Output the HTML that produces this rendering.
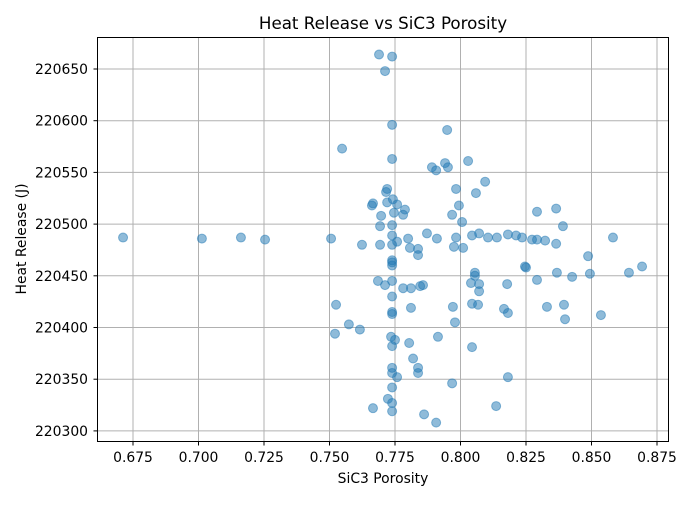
<!DOCTYPE html>
<html><head><meta charset="utf-8"><style>
body{margin:0;background:#fff;}
svg text{font-family:"DejaVu Sans","Liberation Sans",sans-serif;fill:#000;}
</style></head><body>
<svg id="chart" width="700" height="500" viewBox="0 0 700 500" xmlns="http://www.w3.org/2000/svg">
<rect width="700" height="500" fill="#fff"/>
<g id="grid"></g>
<g id="points"></g>
<rect x="97.5" y="37.5" width="571" height="404" fill="none" stroke="#000" stroke-width="1"/>
<g id="ticks"></g>
<text x="383" y="29" font-size="16.7" text-anchor="middle">Heat Release vs SiC3 Porosity</text>
<text x="383" y="483" font-size="13.9" text-anchor="middle">SiC3 Porosity</text>
<text transform="translate(26,239) rotate(-90)" font-size="13.9" text-anchor="middle">Heat Release (J)</text>
</svg>
<script>
const xTicks=[0.675,0.700,0.725,0.750,0.775,0.800,0.825,0.850,0.875];
const yTicks=[220300,220350,220400,220450,220500,220550,220600,220650];
const porosity=[0.6712,0.7013,0.7162,0.7254,0.7506,0.7689,0.7739,0.7712,0.7739,0.7548,0.7739,0.7949,0.7891,0.7907,0.7941,0.7952,0.8029,0.7983,0.8094,0.8059,0.7994,0.7968,0.8006,0.8292,0.7720,0.7716,0.7666,0.7662,0.7720,0.7742,0.7758,0.7697,0.7746,0.7788,0.7781,0.7739,0.7693,0.7739,0.7800,0.7872,0.7910,0.7983,0.8044,0.8071,0.8105,0.8139,0.8181,0.8212,0.8235,0.8292,0.8323,0.7624,0.7693,0.7739,0.7758,0.7807,0.7838,0.7838,0.7975,0.8010,0.7739,0.7739,0.7739,0.8246,0.8250,0.8055,0.8055,0.7685,0.7712,0.7739,0.7781,0.7811,0.7857,0.7846,0.8040,0.8071,0.8071,0.8178,0.8292,0.7739,0.7525,0.7811,0.7971,0.8044,0.8067,0.8166,0.8181,0.8330,0.7739,0.7739,0.7979,0.7574,0.7616,0.7521,0.7735,0.7750,0.7804,0.7914,0.7739,0.8044,0.7819,0.7838,0.7838,0.7739,0.7739,0.7758,0.8181,0.7968,0.7739,0.7723,0.7739,0.7666,0.7739,0.8136,0.7861,0.7907,0.8365,0.8391,0.8365,0.8368,0.8395,0.8399,0.8426,0.8487,0.8494,0.8536,0.8582,0.8643,0.8693,0.8273];
const heat=[220487,220486,220487,220485,220486,220664,220662,220648,220596,220573,220563,220591,220555,220552,220559,220555,220561,220534,220541,220530,220518,220509,220502,220512,220534,220531,220520,220518,220521,220524,220519,220508,220511,220514,220509,220499,220498,220489,220486,220491,220486,220487,220489,220491,220487,220487,220490,220489,220487,220485,220484,220480,220480,220480,220483,220477,220476,220470,220478,220477,220465,220460,220463,220459,220458,220453,220450,220445,220441,220445,220438,220438,220441,220440,220443,220442,220435,220442,220446,220430,220422,220419,220420,220423,220422,220418,220414,220420,220415,220413,220405,220403,220398,220394,220391,220388,220385,220391,220382,220381,220370,220361,220356,220361,220356,220352,220352,220346,220342,220331,220327,220322,220319,220324,220316,220308,220515,220498,220481,220453,220422,220408,220449,220469,220452,220412,220487,220453,220459,220485];
const NS="http://www.w3.org/2000/svg";
function xs(v){return 133+(v-0.675)*2620;}
function ys(v){return 69+(220650-v)*1.034;}
const grid=document.getElementById('grid'),ticks=document.getElementById('ticks'),pts=document.getElementById('points');
function mk(tag,attrs,parent){const e=document.createElementNS(NS,tag);for(const k in attrs)e.setAttribute(k,attrs[k]);parent.appendChild(e);return e;}
xTicks.forEach(t=>{const x=xs(t);
const g=mk('line',{x1:x,x2:x,y1:37.5,y2:441.5,stroke:'#b0b0b0','stroke-width':1},grid);


const tk=mk('line',{x1:x,x2:x,y1:441.5,y2:445.5,stroke:'#000'},ticks);


const l=mk('text',{x:x,y:462,'font-size':13.9,'text-anchor':'middle'},ticks);l.textContent=t.toFixed(3);


});
yTicks.forEach(t=>{const y=ys(t);
const g=mk('line',{x1:97.5,x2:668.5,y1:y,y2:y,stroke:'#b0b0b0','stroke-width':1},grid);


const tk=mk('line',{x1:93.5,x2:97.5,y1:y,y2:y,stroke:'#000'},ticks);


const l=mk('text',{x:88,y:y+5,'font-size':13.9,'text-anchor':'end'},ticks);l.textContent=t;


});
porosity.forEach((v,i)=>{
const c=mk('circle',{cx:xs(v),cy:ys(heat[i]),r:4.5,fill:'#1f77b4','fill-opacity':0.5,stroke:'#1f77b4','stroke-opacity':0.5,'stroke-width':1},pts);


});
</script>
</body></html>
